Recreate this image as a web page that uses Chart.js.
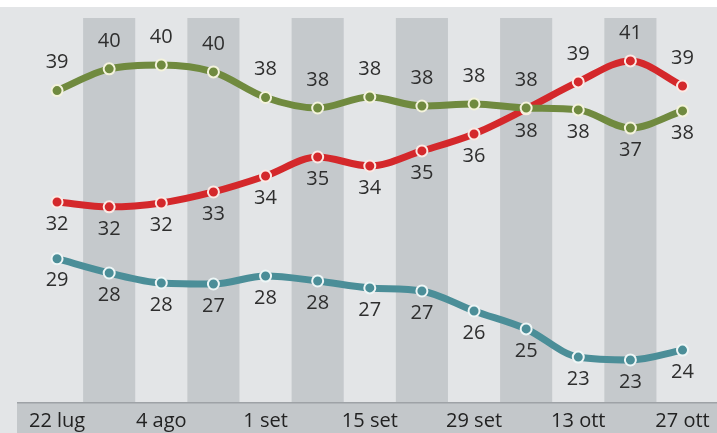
<!DOCTYPE html>
<html lang="it">
<head>
    <meta charset="UTF-8">
    <title>Sondaggi</title>
    <style>
        body {
            margin: 0;
            padding: 0;
            background-color: #ffffff;
        }
        #wrap {
            width: 717px;
            height: 433px;
        }
        canvas {
            display: block;
        }
    </style>
    <script src="https://cdn.jsdelivr.net/npm/chart.js"></script>
</head>
<body>
    <div id="wrap">
        <canvas id="pollChart" width="717" height="433"></canvas>
    </div>

    <script>
        // etichette dell'asse x (una ogni due rilevazioni)
        const tickLabels = ['22 lug', '4 ago', '1 set', '15 set', '29 set', '13 ott', '27 ott'];
        const categories = tickLabels.flatMap((t, i) => i < tickLabels.length - 1 ? [t, ''] : [t]);

        // valori (le etichette mostrano il valore arrotondato)
        const greenValues = [38.86, 40.14, 40.37, 39.96, 38.45, 37.83, 38.48, 37.95, 38.07, 37.83, 37.72, 36.65, 37.66];
        const redValues   = [32.29, 32.0, 32.23, 32.88, 33.82, 34.94, 34.41, 35.3, 36.3, 37.78, 39.37, 40.61, 39.13];
        const tealValues  = [28.94, 28.1, 27.51, 27.45, 27.92, 27.63, 27.22, 27.04, 25.86, 24.8, 23.14, 22.97, 23.55];

        const lightBg = '#e3e5e7';
        const darkBand = '#c5c9cc';

        const backgroundPlugin = {
            id: 'background',
            beforeDraw(chart) {
                const ctx = chart.ctx;
                const area = chart.chartArea;
                ctx.save();
                ctx.fillStyle = lightBg;
                ctx.fillRect(0, 0, chart.width, chart.height);
                ctx.fillStyle = '#ffffff';
                ctx.fillRect(0, 0, chart.width, 7);
                // fascia dell'asse x
                ctx.fillStyle = '#c3c7ca';
                ctx.fillRect(17, area.bottom, chart.width - 17, chart.height - area.bottom);
                ctx.fillStyle = '#9ea2a6';
                ctx.fillRect(17, area.bottom, chart.width - 17, 1.5);
                ctx.restore();
            },
            beforeDatasetsDraw(chart) {
                const ctx = chart.ctx;
                const area = chart.chartArea;
                const xs = chart.scales.x;
                const w = xs.width / categories.length;
                ctx.save();
                ctx.fillStyle = darkBand;
                categories.forEach((c, i) => {
                    if (i % 2 === 1) {
                        const x = xs.getPixelForValue(i);
                        ctx.fillRect(x - w / 2, area.top, w, area.bottom - area.top);
                    }
                });
                ctx.restore();
            }
        };

        const labelPlugin = {
            id: 'pointLabels',
            afterDatasetsDraw(chart) {
                const ctx = chart.ctx;
                const sets = chart.data.datasets;
                ctx.save();
                ctx.font = '20px "Open Sans"';
                ctx.fillStyle = '#2e2e2e';
                ctx.textAlign = 'center';
                ctx.textBaseline = 'middle';
                sets.forEach((ds, di) => {
                    const meta = chart.getDatasetMeta(di);
                    meta.data.forEach((pt, i) => {
                        const v = ds.data[i];
                        const isTop = sets.every(o => o.data[i] <= v);
                        const y = isTop ? pt.y - 28 : pt.y + 22;
                        ctx.fillText(Math.round(v), pt.x, y);
                    });
                });
                ctx.restore();
            }
        };

        function makeSeries(label, data, color, ring) {
            return {
                label: label,
                data: data,
                borderColor: color,
                backgroundColor: color,
                borderWidth: 7,
                cubicInterpolationMode: 'monotone',
                pointRadius: 5.5,
                pointBorderWidth: 2,
                pointBackgroundColor: color,
                pointBorderColor: ring,
                pointHoverRadius: 5.5
            };
        }

        const pollChart = new Chart(document.getElementById('pollChart'), {
            type: 'line',
            data: {
                labels: categories,
                datasets: [
                    makeSeries('Verde', greenValues, '#708a3f', '#f4f3dc'),
                    makeSeries('Rosso', redValues, '#d4282b', '#fbe9e4'),
                    makeSeries('Blu', tealValues, '#4b8e98', '#eef6f6')
                ]
            },
            options: {
                responsive: false,
                animation: false,
                devicePixelRatio: 1,
                layout: {
                    padding: { top: 18, left: 31, right: 8, bottom: 0 }
                },
                plugins: {
                    legend: { display: false },
                    tooltip: { enabled: false }
                },
                scales: {
                    x: {
                        offset: true,
                        grid: { display: false, drawTicks: false },
                        border: { display: false },
                        ticks: {
                            autoSkip: false,
                            maxRotation: 0,
                            padding: 7,
                            color: '#222222',
                            font: { family: 'Open Sans', size: 20 }
                        },
                        afterFit(scale) {
                            scale.height = 31;
                        }
                    },
                    y: {
                        display: false,
                        min: 20.49,
                        max: 43.14
                    }
                }
            },
            plugins: [backgroundPlugin, labelPlugin]
        });
    </script>
</body>
</html>
